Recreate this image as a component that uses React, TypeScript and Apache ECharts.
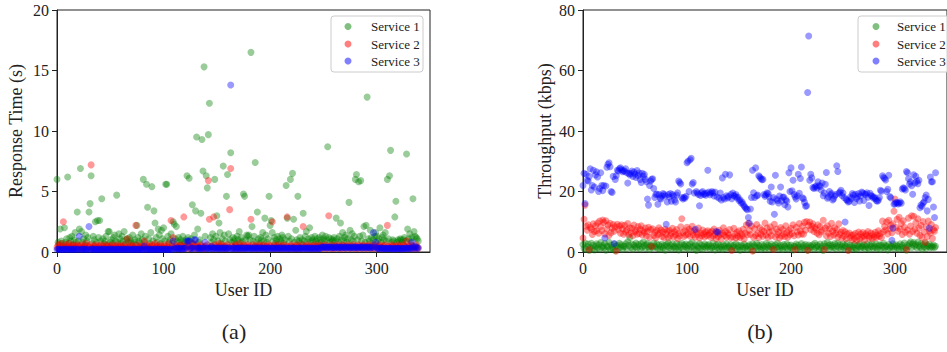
import React, { useEffect, useRef } from "react";
import * as echarts from "echarts";

const SERVICES = ["Service 1", "Service 2", "Service 3"];
const COLORS = ["rgba(0,128,0,0.5)", "rgba(255,0,0,0.5)", "rgba(0,0,255,0.5)"];
const X_TICKS = [0, 100, 200, 300];
const RT_TICKS = [0, 5, 10, 15, 20];
const TP_TICKS = [0, 20, 40, 60, 80];
const X_LABEL = "User ID";
const RT_LABEL = "Response Time (s)";
const TP_LABEL = "Throughput (kbps)";
const PANEL_LABELS = ["(a)", "(b)"];

// Response time (s), users 0..339
const rtService1 = [
  6.0, 0.8, 0.6, 1.9, 0.9, 0.7, 0.5, 2.0, 0.8, 1.1, 6.2, 0.7, 1.2, 0.9, 1.3, 0.6, 1.0, 1.6, 0.8, 3.3,
  0.9, 1.9, 6.9, 1.7, 0.8, 1.1, 0.6, 1.4, 0.9, 1.2, 3.3, 4.0, 6.3, 0.7, 1.3, 1.0, 2.5, 0.8, 2.6, 1.2,
  2.6, 0.9, 4.4, 1.1, 0.7, 0.9, 1.3, 0.6, 1.7, 1.7, 0.8, 1.0, 0.7, 1.2, 1.4, 0.9, 4.7, 0.8, 1.5, 1.1,
  0.7, 1.3, 0.9, 1.7, 0.6, 1.0, 1.1, 0.8, 1.2, 0.9, 0.7, 1.4, 0.8, 1.0, 0.6, 2.2, 1.2, 0.9, 0.7, 1.5,
  1.0, 6.0, 0.8, 1.3, 5.6, 3.7, 1.1, 0.7, 1.6, 5.4, 0.9, 3.4, 2.4, 1.2, 0.8, 1.9, 1.4, 0.7, 1.8, 1.1,
  2.0, 0.9, 5.6, 5.6, 1.3, 0.8, 1.0, 1.5, 0.7, 2.5, 2.3, 1.1, 2.1, 0.9, 1.2, 0.8, 1.0, 0.6, 1.3, 0.9,
  0.8, 1.0, 6.3, 1.2, 6.1, 0.9, 1.1, 3.9, 0.7, 1.4, 3.4, 9.5, 1.9, 0.8, 1.0, 3.2, 9.3, 6.7, 15.3, 1.3,
  6.3, 5.3, 9.7, 12.3, 1.2, 0.8, 1.5, 1.0, 6.0, 1.3, 3.0, 0.9, 2.4, 1.6, 0.7, 1.1, 7.1, 1.4, 0.9, 4.6,
  6.4, 1.5, 1.0, 8.2, 0.8, 1.2, 0.9, 1.1, 0.7, 1.3, 1.0, 1.7, 0.8, 1.2, 0.9, 4.8, 4.6, 1.0, 1.4, 1.3,
  1.4, 1.0, 16.5, 2.1, 0.9, 1.3, 7.4, 0.8, 3.3, 1.1, 0.7, 1.2, 1.0, 1.6, 0.9, 2.8, 1.4, 0.8, 1.1, 4.6,
  2.2, 2.6, 1.6, 0.9, 1.2, 0.7, 1.0, 1.3, 0.8, 1.1, 0.9, 1.4, 1.2, 0.7, 1.0, 5.5, 2.8, 1.3, 0.9, 6.0,
  1.1, 6.5, 2.7, 0.8, 1.8, 1.0, 4.6, 0.9, 1.2, 0.7, 1.0, 3.2, 0.9, 1.3, 1.7, 0.8, 1.1, 2.0, 0.9, 1.2,
  1.0, 0.8, 1.3, 0.9, 1.1, 0.7, 1.2, 1.0, 0.8, 1.4, 1.1, 0.9, 1.3, 1.0, 8.7, 1.2, 0.8, 1.1, 0.9, 1.0,
  1.2, 0.9, 2.8, 1.1, 0.8, 1.3, 2.4, 1.0, 1.6, 0.9, 1.2, 1.4, 0.8, 1.1, 4.1, 1.8, 1.0, 1.5, 0.9, 1.3,
  6.0, 6.4, 1.0, 5.8, 1.3, 5.9, 0.9, 1.4, 2.1, 0.8, 2.2, 12.8, 1.1, 0.9, 1.8, 1.2, 0.7, 1.0, 1.3, 1.6,
  1.3, 0.9, 1.1, 2.0, 0.8, 1.2, 1.4, 1.0, 1.6, 0.9, 6.0, 1.1, 6.3, 8.4, 0.8, 1.0, 0.9, 2.9, 4.2, 0.8,
  1.0, 0.9, 1.1, 1.0, 0.8, 1.0, 1.2, 0.9, 8.1, 1.9, 1.1, 1.5, 0.9, 1.2, 4.4, 1.7, 1.3, 1.2, 1.1, 0.9,
];
const rtService2 = [
  0.4, 0.6, 0.3, 0.5, 0.7, 0.4, 2.5, 0.3, 0.6, 0.5, 0.4, 0.7, 0.3, 0.5, 0.4, 0.6, 0.3, 0.5, 0.4, 0.6,
  0.5, 0.3, 0.4, 0.6, 0.3, 0.5, 0.4, 0.7, 0.3, 0.5, 0.4, 0.6, 7.2, 0.4, 0.3, 0.5, 0.6, 0.4, 0.3, 0.5,
  0.4, 0.6, 0.3, 0.5, 0.4, 0.3, 0.6, 0.5, 0.4, 0.3, 0.5, 0.4, 0.6, 0.3, 0.4, 0.5, 0.3, 0.6, 0.4, 0.5,
  0.3, 0.5, 0.4, 0.6, 0.3, 0.4, 1.1, 0.5, 0.3, 0.6, 0.4, 0.5, 0.3, 0.4, 2.2, 0.6, 0.3, 0.5, 0.4, 0.3,
  0.5, 0.4, 0.9, 0.3, 0.6, 0.4, 0.5, 0.3, 0.4, 0.6, 0.5, 0.3, 0.7, 0.4, 0.5, 0.3, 0.6, 0.4, 0.5, 0.3,
  0.4, 0.6, 0.3, 0.5, 0.4, 0.7, 0.3, 2.6, 0.5, 1.2, 0.4, 0.6, 0.3, 0.5, 0.4, 0.3, 0.6, 0.5, 0.4, 2.9,
  0.5, 0.3, 0.4, 0.6, 0.5, 0.3, 0.4, 0.7, 0.5, 0.3, 0.6, 0.4, 0.5, 0.3, 0.4, 0.6, 0.5, 0.3, 0.4, 0.5,
  0.3, 0.6, 5.9, 2.7, 0.4, 0.5, 0.3, 2.9, 0.6, 0.4, 0.5, 0.3, 0.7, 0.4, 0.5, 0.6, 0.3, 0.4, 0.5, 0.3,
  0.6, 0.4, 3.5, 6.9, 0.5, 0.3, 0.4, 0.6, 0.5, 0.3, 0.4, 0.7, 0.3, 0.5, 0.4, 0.6, 0.3, 0.5, 0.4, 0.6,
  0.4, 0.5, 2.7, 0.3, 0.6, 0.4, 0.5, 0.3, 0.4, 0.6, 0.5, 0.3, 0.4, 0.5, 0.6, 0.3, 0.4, 0.5, 0.3, 0.6,
  0.5, 0.4, 2.5, 0.3, 0.6, 0.4, 0.5, 0.3, 0.6, 0.4, 0.3, 0.5, 0.4, 0.6, 0.3, 0.5, 2.9, 0.4, 0.3, 0.5,
  0.6, 0.4, 0.3, 0.5, 0.4, 0.6, 0.3, 0.5, 0.4, 0.3, 0.6, 2.1, 0.4, 0.5, 0.3, 0.6, 0.4, 0.5, 0.3, 0.4,
  0.5, 0.3, 0.6, 0.4, 0.5, 0.3, 0.4, 0.6, 0.5, 0.3, 0.4, 0.5, 0.6, 0.3, 0.4, 3.0, 0.5, 0.3, 0.6, 0.4,
  0.3, 0.5, 0.4, 0.6, 0.3, 0.5, 0.4, 0.3, 0.6, 0.5, 0.4, 0.3, 0.5, 0.6, 0.4, 0.3, 0.5, 0.4, 0.6, 0.3,
  0.5, 0.4, 0.3, 0.6, 0.5, 0.4, 0.3, 0.5, 0.6, 0.4, 0.3, 0.5, 0.4, 0.6, 0.3, 0.5, 0.4, 0.3, 0.6, 0.5,
  0.4, 0.3, 0.5, 0.6, 0.4, 0.3, 0.5, 0.4, 0.6, 0.3, 2.2, 0.5, 0.4, 0.3, 0.6, 0.5, 0.4, 0.3, 0.5, 0.4,
  0.6, 0.3, 0.5, 0.4, 0.3, 0.6, 0.5, 0.4, 0.9, 0.3, 0.5, 0.4, 0.6, 0.3, 0.5, 0.4, 0.3, 0.6, 0.4, 0.3,
];
const rtService3 = [
  0.2, 0.25, 0.2, 0.25, 0.2, 0.2, 0.25, 0.2, 0.25, 0.25, 0.2, 0.2, 0.25, 0.2, 0.25, 0.2, 0.25, 0.2, 0.25, 0.2,
  0.25, 1.3, 0.2, 0.25, 0.2, 0.25, 0.25, 0.2, 0.2, 0.25, 2.1, 0.2, 0.2, 0.25, 0.25, 0.2, 0.25, 0.2, 0.2, 0.25,
  0.2, 0.25, 0.2, 0.25, 0.2, 0.25, 0.2, 0.2, 0.25, 0.2, 0.25, 0.25, 0.2, 0.25, 0.2, 0.2, 0.25, 0.25, 0.2, 0.2,
  0.25, 0.2, 0.25, 0.25, 0.2, 0.2, 0.25, 0.25, 0.2, 0.2, 0.25, 0.2, 0.25, 0.2, 0.25, 0.2, 0.2, 0.25, 0.25, 0.2,
  0.2, 0.25, 0.5, 0.2, 0.25, 0.2, 0.25, 0.2, 0.25, 0.2, 0.2, 0.25, 0.25, 0.2, 0.25, 0.2, 0.25, 0.2, 0.25, 0.2,
  0.25, 0.2, 0.25, 0.25, 0.2, 0.2, 0.25, 0.25, 0.2, 0.9, 0.3, 0.25, 0.35, 0.3, 0.25, 0.3, 0.3, 0.25, 0.3, 0.3,
  0.3, 0.35, 0.9, 0.9, 0.9, 0.3, 0.3, 0.35, 0.3, 1.0, 1.0, 0.3, 0.3, 0.35, 0.3, 0.3, 0.3, 0.35, 0.3, 0.8,
  0.3, 0.3, 0.35, 0.3, 0.3, 0.45, 0.3, 0.3, 0.35, 0.3, 0.3, 0.35, 0.3, 0.3, 0.3, 0.35, 0.3, 0.3, 0.35, 0.3,
  0.3, 0.35, 0.3, 13.8, 0.3, 0.3, 0.35, 0.3, 0.3, 0.3, 0.35, 0.3, 0.3, 0.35, 0.3, 0.3, 0.35, 0.3, 0.3, 0.35,
  0.3, 0.3, 0.35, 0.3, 0.3, 0.35, 0.3, 0.3, 0.35, 0.3, 0.3, 0.35, 0.3, 0.3, 0.35, 0.3, 0.3, 0.3, 0.35, 0.3,
  0.3, 0.3, 0.35, 0.3, 0.3, 0.3, 0.35, 0.3, 0.3, 0.35, 0.3, 0.3, 0.35, 0.3, 0.3, 0.35, 0.3, 0.3, 0.3, 0.35,
  0.3, 0.3, 0.35, 0.3, 0.3, 0.3, 0.3, 0.35, 0.3, 0.3, 0.35, 0.3, 0.3, 0.35, 0.3, 0.3, 0.35, 0.3, 0.3, 0.3,
  0.35, 0.3, 0.3, 0.3, 0.35, 0.3, 0.3, 0.3, 0.4, 0.4, 0.4, 0.35, 0.4, 0.4, 0.35, 0.4, 0.4, 0.35, 0.4, 0.35,
  0.4, 0.35, 0.4, 0.4, 0.35, 0.4, 0.35, 0.4, 0.4, 0.35, 0.4, 0.35, 0.4, 0.4, 0.35, 0.4, 0.35, 0.4, 0.35, 0.4,
  0.4, 0.35, 0.4, 0.35, 0.4, 0.4, 0.35, 0.4, 0.35, 0.4, 0.4, 0.35, 0.4, 0.35, 0.4, 0.35, 0.4, 1.6, 0.35, 0.8,
  0.35, 0.3, 0.3, 0.3, 0.35, 0.3, 0.3, 0.3, 0.3, 0.3, 0.3, 0.3, 0.3, 0.3, 0.3, 0.3, 0.25, 0.3, 0.3, 0.3,
  0.3, 0.3, 0.3, 0.25, 0.3, 0.3, 0.3, 0.3, 0.3, 0.35, 0.3, 0.3, 0.3, 0.8, 0.35, 0.3, 0.45, 0.4, 0.3, 0.35,
];

// Throughput (kbps), users 0..339
const tpService1 = [
  2.5, 1.2, 3.0, 0.8, 1.8, 2.6, 0.5, 1.5, 2.9, 1.1, 2.2, 0.7, 1.9, 2.7, 1.3, 2.4, 0.9, 3.1, 1.6, 2.1,
  1.4, 2.8, 0.6, 2.0, 1.7, 3.2, 1.0, 2.3, 1.5, 0.8, 2.6, 0.4, 1.9, 2.2, 1.2, 2.9, 1.6, 2.4, 0.9, 2.0,
  1.8, 2.7, 1.1, 3.4, 2.2, 4.8, 1.5, 2.6, 0.9, 2.3, 1.7, 3.0, 1.3, 2.5, 2.0, 1.0, 2.8, 1.6, 3.3, 2.1,
  1.2, 2.4, 2.9, 1.7, 0.8, 2.2, 1.9, 1.4, 3.0, 2.0, 1.6, 2.7, 1.1, 2.3, 0.9, 1.8, 2.6, 1.3, 2.1, 0.6,
  2.5, 1.9, 3.1, 1.4, 2.2, 0.9, 2.7, 1.6, 2.0, 1.2, 2.8, 1.7, 0.7, 2.4, 1.5, 2.9, 1.0, 2.3, 1.8, 2.6,
  1.3, 2.1, 0.8, 2.7, 1.6, 3.2, 1.9, 1.1, 2.4, 0.5, 2.0, 1.5, 2.8, 1.2, 2.3, 0.9, 1.8, 2.6, 1.4, 2.2,
  1.7, 2.5, 1.0, 2.0, 1.4, 2.9, 1.8, 0.7, 2.3, 1.5, 2.6, 1.1, 2.1, 1.6, 0.8, 2.4, 1.9, 1.2, 2.7, 1.5,
  2.0, 1.3, 2.5, 0.9, 1.7, 2.2, 1.4, 2.8, 1.0, 2.1, 1.6, 0.6, 2.3, 1.8, 1.2, 2.6, 1.5, 2.0, 0.8, 1.9,
  2.4, 1.1, 1.8, 2.7, 0.5, 2.1, 1.6, 2.9, 1.3, 2.2, 1.7, 0.9, 2.5, 1.4, 2.0, 1.1, 2.8, 1.6, 2.3, 1.0,
  1.8, 2.6, 1.2, 2.0, 0.9, 2.4, 1.5, 2.9, 1.7, 1.1, 2.2, 1.6, 0.8, 2.5, 1.9, 1.3, 2.7, 1.0, 2.1, 1.5,
  2.3, 1.4, 0.7, 2.0, 1.8, 2.6, 1.2, 2.2, 1.6, 0.9, 2.8, 1.5, 2.1, 1.1, 2.5, 1.7, 0.6, 2.3, 1.3, 2.0,
  1.6, 2.4, 1.0, 2.9, 1.5, 2.2, 1.8, 0.8, 2.6, 1.3, 2.0, 0.5, 2.7, 1.9, 1.4, 3.2, 2.1, 1.2, 2.5, 1.7,
  2.2, 1.4, 2.8, 1.1, 2.0, 3.0, 1.6, 2.4, 0.9, 1.8, 2.6, 1.3, 2.1, 1.7, 2.9, 0.7, 1.5, 2.3, 1.0, 2.0,
  1.5, 2.5, 1.2, 0.8, 2.2, 1.7, 2.7, 1.3, 2.0, 1.6, 2.4, 1.0, 1.9, 2.6, 1.4, 0.9, 2.3, 1.8, 2.8, 1.2,
  2.0, 1.5, 2.6, 1.1, 1.9, 2.4, 0.8, 2.2, 1.6, 2.9, 1.3, 2.1, 1.8, 0.7, 2.5, 1.4, 2.0, 1.7, 2.7, 1.2,
  1.9, 2.4, 1.3, 2.0, 0.9, 2.7, 1.6, 2.2, 1.1, 3.0, 1.5, 0.6, 2.3, 1.8, 2.8, 3.4, 1.4, 2.6, 3.1, 2.0,
  2.5, 1.3, 3.3, 2.1, 1.6, 2.8, 0.9, 2.4, 1.7, 3.0, 1.2, 2.2, 1.8, 2.6, 1.4, 2.0, 1.6, 2.3, 1.5, 1.9,
];
const tpService2 = [
  4.6, 10.8, 15.5, 8.5, 7.2, 9.0, 0.8, 8.1, 7.5, 5.8, 9.3, 6.8, 8.7, 7.0, 9.6, 6.2, 10.2, 8.4, 7.1, 10.6,
  9.8, 6.0, 10.3, 7.6, 8.9, 5.5, 9.5, 6.4, 7.9, 9.1, 6.9, 8.3, 0.3, 9.2, 7.4, 8.6, 6.2, 9.0, 7.7, 5.9,
  8.8, 6.6, 7.3, 9.4, 5.7, 8.0, 6.3, 7.8, 5.4, 8.9, 6.7, 7.2, 5.9, 8.4, 6.1, 7.5, 8.7, 5.6, 7.0, 6.4,
  7.9, 5.3, 6.8, 8.2, 4.9, 7.4, 1.8, 7.7, 5.5, 6.5, 4.7, 7.1, 5.8, 8.0, 6.2, 7.3, 5.1, 6.6, 4.8, 7.5,
  5.9, 6.9, 4.6, 7.2, 5.4, 6.3, 7.8, 5.0, 6.7, 5.7, 7.4, 4.5, 6.1, 5.3, 8.3, 11.0, 6.4, 5.1, 7.0, 5.6,
  8.2, 6.0, 7.5, 5.2, 6.8, 8.5, 5.6, 7.1, 4.9, 6.5, 5.8, 7.9, 4.6, 6.3, 5.4, 7.3, 6.0, 5.0, 6.7, 5.5,
  7.0, 5.7, 6.4, 4.8, 6.9, 5.3, 7.6, 5.9, 4.5, 6.6, 5.1, 7.2, 5.8, 4.4, 6.1, 8.0, 5.5, 6.8, 4.9, 6.3,
  5.6, 7.4, 4.7, 0.5, 5.0, 7.8, 5.9, 4.6, 6.5, 5.2, 7.0, 4.8, 6.0, 5.4, 7.5, 4.3, 6.3, 8.9, 5.7, 9.5,
  7.2, 5.8, 8.6, 0.3, 4.9, 7.7, 5.5, 9.1, 6.1, 4.7, 8.0, 5.9, 7.3, 5.2, 6.8, 9.6, 5.6, 7.9, 4.8, 6.5,
  8.3, 5.4, 7.0, 0.8, 9.2, 5.0, 7.6, 5.8, 6.6, 4.6, 8.1, 5.3, 7.4, 6.0, 5.1, 8.7, 6.4, 4.9, 7.1, 5.7,
  7.8, 6.1, 9.0, 5.4, 0.8, 8.2, 6.7, 5.6, 9.4, 7.0, 6.0, 8.5, 5.9, 9.8, 7.2, 10.1, 0.6, 8.8, 9.9, 7.4,
  8.6, 9.3, 6.8, 8.1, 7.5, 6.2, 9.0, 5.7, 8.4, 6.6, 7.2, 10.5, 0.8, 7.9, 5.4, 8.7, 6.3, 7.6, 5.1, 9.5,
  6.9, 5.6, 8.0, 6.2, 7.4, 4.9, 9.3, 5.8, 6.5, 4.6, 7.1, 5.2, 6.7, 4.4, 5.9, 0.5, 6.3, 4.8, 5.5, 4.1,
  5.7, 4.5, 6.2, 3.8, 5.1, 6.6, 4.3, 5.9, 4.9, 6.4, 5.3, 4.0, 6.0, 5.5, 6.8, 4.6, 5.2, 6.3, 4.4, 5.8,
  5.0, 6.5, 4.7, 5.6, 7.0, 5.2, 6.1, 4.8, 10.2, 6.7, 8.4, 7.3, 9.9, 6.0, 10.5, 7.7, 8.8, 6.4, 9.3, 13.5,
  17.5, 8.1, 10.8, 6.9, 11.5, 7.6, 9.4, 5.8, 10.3, 8.2, 6.5, 0.8, 7.3, 11.2, 5.9, 8.6, 12.0, 6.8, 11.8, 7.5,
  9.7, 6.2, 11.0, 7.9, 5.5, 8.8, 4.9, 10.1, 6.6, 3.2, 8.3, 5.1, 10.2, 7.0, 6.3, 9.1, 4.5, 7.4, 6.9, 8.1,
];
const tpService3 = [
  22.0, 26.0, 16.0, 25.7, 23.7, 23.5, 25.0, 27.5, 20.5, 22.0, 27.0, 21.5, 25.5, 26.5, 24.8, 20.0, 21.0, 26.2, 22.0, 20.3,
  22.0, 4.6, 21.8, 28.0, 29.0, 29.5, 28.2, 20.0, 19.7, 25.0, 2.8, 24.0, 25.2, 27.0, 26.8, 27.5, 27.8, 27.2, 26.5, 26.9,
  26.7, 27.5, 26.2, 22.8, 26.0, 25.5, 26.0, 26.8, 25.0, 26.4, 25.8, 24.6, 26.9, 25.3, 26.1, 24.0, 23.0, 26.0, 25.0, 25.6,
  24.0, 23.2, 17.5, 15.5, 22.0, 23.5, 24.0, 24.2, 21.0, 18.0, 19.0, 19.2, 15.8, 19.0, 17.8, 17.5, 18.5, 19.3, 19.0, 18.5,
  9.2, 16.5, 19.0, 18.2, 19.3, 16.8, 19.0, 18.5, 17.2, 16.5, 18.8, 19.6, 23.5, 23.0, 22.5, 18.0, 17.5, 18.0, 17.8, 18.4,
  29.5, 30.0, 20.0, 30.5, 31.0, 22.5, 23.0, 19.5, 7.5, 20.0, 19.5, 19.0, 15.3, 18.7, 19.6, 20.0, 19.0, 19.3, 18.8, 19.5,
  27.0, 19.8, 18.9, 19.5, 20.0, 19.6, 18.5, 19.8, 6.8, 18.2, 6.5, 17.8, 19.5, 17.2, 24.5, 18.0, 17.5, 25.7, 18.6, 17.9,
  18.3, 25.5, 19.0, 17.6, 19.5, 18.7, 18.4, 19.0, 17.9, 18.2, 17.0, 17.3, 16.2, 16.5, 15.8, 15.1, 14.7, 14.3, 14.0, 11.4,
  9.5, 14.2, 18.0, 27.0, 19.6, 18.0, 27.8, 18.6, 18.8, 25.2, 24.8, 24.3, 23.9, 24.0, 19.0, 18.4, 18.9, 19.6, 19.3, 18.2,
  16.8, 21.5, 16.5, 18.0, 12.5, 25.4, 17.5, 17.0, 16.2, 18.5, 21.5, 16.9, 18.1, 18.2, 15.6, 17.3, 16.8, 14.9, 26.2, 20.0,
  27.8, 20.2, 23.7, 19.0, 18.2, 17.5, 18.6, 25.7, 19.4, 24.3, 28.1, 17.9, 17.6, 16.4, 15.1, 15.3, 52.7, 71.4, 23.7, 25.7,
  24.5, 21.3, 21.0, 21.5, 21.8, 21.2, 23.2, 22.0, 21.7, 20.5, 22.8, 18.6, 19.5, 22.4, 26.3, 17.8, 18.2, 20.0, 18.9, 19.3,
  17.2, 17.6, 18.5, 19.0, 28.5, 26.6, 19.4, 19.8, 20.4, 18.7, 19.5, 18.0, 9.9, 17.4, 17.1, 16.5, 16.8, 18.2, 17.7, 19.3,
  18.8, 16.4, 19.1, 17.7, 18.3, 19.3, 16.9, 18.5, 19.8, 19.5, 17.0, 19.2, 19.0, 19.6, 18.1, 15.4, 19.4, 18.7, 18.4, 17.9,
  18.2, 17.7, 17.0, 16.8, 17.1, 18.0, 20.4, 20.1, 25.2, 24.6, 24.3, 23.8, 20.0, 20.7, 25.4, 18.3, 17.9, 3.9, 7.9, 15.8,
  16.0, 16.4, 16.3, 15.9, 16.2, 16.6, 16.1, 20.8, 21.2, 21.0, 20.5, 26.6, 26.2, 24.2, 22.5, 23.2, 21.9, 19.1, 25.5, 22.8,
  25.0, 23.4, 22.6, 23.7, 14.6, 15.5, 15.1, 16.2, 16.6, 18.0, 18.8, 13.6, 17.4, 7.9, 24.8, 23.2, 23.2, 14.9, 11.4, 26.2,
];

const FONT = "Liberation Serif";
const INK = "#222";

export default function App() {
  const ref = useRef<HTMLDivElement>(null);

  useEffect(() => {
    if (!ref.current) return;
    const chart = echarts.init(ref.current, null, { renderer: "svg" });
    const toPts = (arr: number[]) => arr.map((v, i) => [i, v]);

    const xAxis = (gridIndex: number) => ({
      type: "value",
      gridIndex,
      min: 0,
      max: 350,
      interval: 100,
      name: X_LABEL,
      nameLocation: "middle",
      nameGap: 28,
      nameTextStyle: { fontFamily: FONT, fontSize: 18, color: INK },
      axisLine: { show: true, onZero: false, lineStyle: { color: INK, width: 1 } },
      axisTick: { show: true, inside: false, length: 5, customValues: X_TICKS, lineStyle: { color: INK, width: 1 } },
      axisLabel: { fontFamily: FONT, fontSize: 16, color: INK, margin: 8, customValues: X_TICKS },
      splitLine: { show: false },
    });
    const yAxis = (gridIndex: number, max: number, interval: number, ticks: number[], name: string, gap: number) => ({
      type: "value",
      gridIndex,
      min: 0,
      max,
      interval,
      name,
      nameLocation: "middle",
      nameGap: gap,
      nameTextStyle: { fontFamily: FONT, fontSize: 18, color: INK },
      axisLine: { show: true, onZero: false, lineStyle: { color: INK, width: 1 } },
      axisTick: { show: true, inside: false, length: 5, customValues: ticks, lineStyle: { color: INK, width: 1 } },
      axisLabel: { fontFamily: FONT, fontSize: 16, color: INK, margin: 8, customValues: ticks },
      splitLine: { show: false },
    });

    const rtData = [rtService1, rtService2, rtService3];
    const tpData = [tpService1, tpService2, tpService3];
    const series: any[] = [];
    rtData.forEach((arr, k) =>
      series.push({
        type: "scatter",
        name: SERVICES[k],
        xAxisIndex: 0,
        yAxisIndex: 0,
        symbolSize: 7,
        itemStyle: { color: COLORS[k], borderWidth: 0 },
        data: toPts(arr),
        silent: true,
      })
    );
    tpData.forEach((arr, k) =>
      series.push({
        type: "scatter",
        name: SERVICES[k],
        xAxisIndex: 1,
        yAxisIndex: 1,
        symbolSize: 7,
        itemStyle: { color: COLORS[k], borderWidth: 0 },
        data: toPts(arr),
        silent: true,
      })
    );

    const legendGroup = (boxX: number, markerX: number, textX: number) => {
      const rows = [26.5, 44, 61];
      const children: any[] = [
        {
          type: "rect",
          shape: { x: boxX, y: 16, width: 92, height: 56, r: 3 },
          style: { fill: "rgba(255,255,255,0.8)", stroke: "#cccccc", lineWidth: 1 },
        },
      ];
      SERVICES.forEach((s, k) => {
        children.push({
          type: "circle",
          shape: { cx: markerX, cy: rows[k], r: 3.5 },
          style: { fill: COLORS[k] },
        });
        children.push({
          type: "text",
          x: textX,
          y: rows[k],
          style: { text: s, fill: INK, fontFamily: FONT, fontSize: 13, verticalAlign: "middle", align: "left" },
        });
      });
      return { type: "group", z: 100, children };
    };

    chart.setOption({
      animation: false,
      backgroundColor: "#ffffff",
      textStyle: { fontFamily: FONT },
      grid: [
        { left: 57, top: 10, width: 373, height: 242, show: true, borderColor: INK, borderWidth: 1, backgroundColor: "transparent" },
        { left: 583, top: 10, width: 373, height: 242, show: true, borderColor: INK, borderWidth: 1, backgroundColor: "transparent" },
      ],
      xAxis: [xAxis(0), xAxis(1)],
      yAxis: [
        yAxis(0, 20, 5, RT_TICKS, RT_LABEL, 32),
        yAxis(1, 80, 20, TP_TICKS, TP_LABEL, 29),
      ],
      series,
      graphic: [
        legendGroup(331, 348, 371),
        legendGroup(858, 876, 897),
        {
          type: "text",
          x: 234,
          y: 331,
          style: { text: PANEL_LABELS[0], fill: INK, fontFamily: FONT, fontSize: 22, align: "center", verticalAlign: "middle" },
        },
        {
          type: "text",
          x: 760,
          y: 331,
          style: { text: PANEL_LABELS[1], fill: INK, fontFamily: FONT, fontSize: 22, align: "center", verticalAlign: "middle" },
        },
      ],
    });

    return () => chart.dispose();
  }, []);

  return (
    <div
      ref={ref}
      style={{ position: "fixed", left: 0, top: 0, width: 947, height: 352, background: "#fff" }}
    />
  );
}
